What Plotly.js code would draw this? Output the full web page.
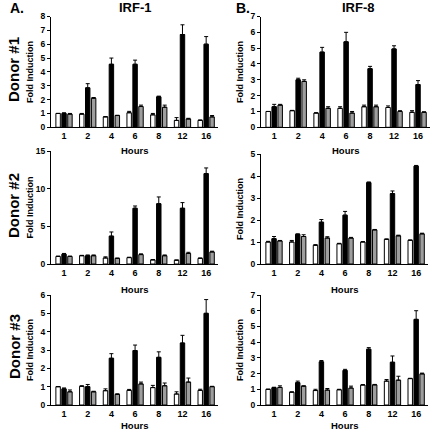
<!DOCTYPE html>
<html>
<head>
<meta charset="utf-8">
<script src="https://cdn.plot.ly/plotly-3.0.1.min.js"></script>
<style>html,body{margin:0;padding:0;background:#fff;}#chart{width:433px;height:433px;}</style>
</head>
<body>
<div id="chart"></div>
<script>
const hours = ['1','2','4','6','8','12','16'];

// IRF-1, Donor #1
const irf1_d1_white = [1.0, 0.95, 0.75, 1.05, 0.9, 0.5, 0.5];
const irf1_d1_white_err = [0, 0.05, 0.03, 0.1, 0.1, 0.2, 0.03];
const irf1_d1_black = [1.0, 2.85, 4.55, 4.55, 2.2, 6.7, 6.0];
const irf1_d1_black_err = [0.05, 0.3, 0.45, 0.3, 0.05, 0.7, 0.55];
const irf1_d1_gray = [0.95, 2.1, 0.85, 1.5, 1.45, 0.6, 0.75];
const irf1_d1_gray_err = [0.05, 0.05, 0.02, 0.1, 0.15, 0.05, 0.1];

// IRF-8, Donor #1
const irf8_d1_white = [1.0, 1.05, 0.9, 1.2, 1.3, 1.25, 0.95];
const irf8_d1_white_err = [0, 0.02, 0.02, 0.1, 0.1, 0.1, 0.1];
const irf8_d1_black = [1.3, 3.0, 4.75, 5.4, 3.7, 4.95, 2.7];
const irf8_d1_black_err = [0.15, 0.1, 0.3, 0.6, 0.15, 0.2, 0.25];
const irf8_d1_gray = [1.4, 2.9, 1.2, 0.9, 1.3, 1.0, 0.95];
const irf8_d1_gray_err = [0.05, 0.1, 0.1, 0.1, 0.1, 0.05, 0.03];

// IRF-1, Donor #2
const irf1_d2_white = [1.0, 1.1, 0.8, 0.85, 0.55, 0.5, 0.75];
const irf1_d2_white_err = [0.05, 0.05, 0.15, 0.05, 0.03, 0.03, 0.05];
const irf1_d2_black = [1.3, 1.1, 3.7, 7.4, 8.0, 7.4, 12.0];
const irf1_d2_black_err = [0.1, 0.1, 0.55, 0.3, 0.9, 0.75, 0.75];
const irf1_d2_gray = [1.0, 1.1, 0.75, 1.25, 1.1, 1.4, 1.6];
const irf1_d2_gray_err = [0.05, 0.1, 0.03, 0.1, 0.1, 0.15, 0.1];

// IRF-8, Donor #2
const irf8_d2_white = [1.0, 1.0, 0.85, 0.92, 1.0, 1.12, 1.08];
const irf8_d2_white_err = [0.03, 0.07, 0.03, 0.02, 0.02, 0.02, 0.01];
const irf8_d2_black = [1.15, 1.35, 1.9, 2.22, 3.7, 3.2, 4.45];
const irf8_d2_black_err = [0.1, 0.02, 0.12, 0.17, 0.03, 0.12, 0.03];
const irf8_d2_gray = [1.05, 1.25, 1.18, 1.18, 1.55, 1.28, 1.37];
const irf8_d2_gray_err = [0.02, 0.08, 0.06, 0.03, 0.02, 0.03, 0.03];

// IRF-1, Donor #3
const irf1_d3_white = [1.0, 1.02, 0.78, 0.8, 0.95, 0.6, 0.8];
const irf1_d3_white_err = [0, 0.03, 0.1, 0.05, 0.12, 0.12, 0.06];
const irf1_d3_black = [0.88, 1.0, 2.55, 2.97, 2.6, 3.38, 5.0];
const irf1_d3_black_err = [0.05, 0.12, 0.25, 0.3, 0.3, 0.42, 0.75];
const irf1_d3_gray = [0.72, 0.72, 0.58, 1.15, 1.05, 1.25, 1.0];
const irf1_d3_gray_err = [0.1, 0.03, 0.03, 0.1, 0.15, 0.22, 0.02];

// IRF-8, Donor #3
const irf8_d3_white = [1.0, 0.82, 0.92, 0.97, 1.27, 1.52, 1.68];
const irf8_d3_white_err = [0, 0.01, 0.08, 0.03, 0.03, 0.1, 0.02];
const irf8_d3_black = [1.1, 1.42, 2.75, 2.2, 3.55, 2.72, 5.45];
const irf8_d3_black_err = [0.03, 0.1, 0.08, 0.07, 0.1, 0.4, 0.55];
const irf8_d3_gray = [1.12, 1.2, 0.95, 1.08, 1.28, 1.58, 1.98];
const irf8_d3_gray_err = [0.1, 0.02, 0.1, 0.12, 0.03, 0.25, 0.05];

const panelTitles = ['IRF-1', 'IRF-8'];
const panelLetters = ['A.', 'B.'];
const donorLabels = ['Donor #1', 'Donor #2', 'Donor #3'];
const yLabel = 'Fold Induction';
const xLabel = 'Hours';
const yRanges = [[0, 8], [0, 7], [0, 15], [0, 5], [0, 6], [0, 7]];
const yDticks = [1, 1, 5, 1, 1, 1];

const panels = [
  [irf1_d1_white, irf1_d1_white_err, irf1_d1_black, irf1_d1_black_err, irf1_d1_gray, irf1_d1_gray_err],
  [irf8_d1_white, irf8_d1_white_err, irf8_d1_black, irf8_d1_black_err, irf8_d1_gray, irf8_d1_gray_err],
  [irf1_d2_white, irf1_d2_white_err, irf1_d2_black, irf1_d2_black_err, irf1_d2_gray, irf1_d2_gray_err],
  [irf8_d2_white, irf8_d2_white_err, irf8_d2_black, irf8_d2_black_err, irf8_d2_gray, irf8_d2_gray_err],
  [irf1_d3_white, irf1_d3_white_err, irf1_d3_black, irf1_d3_black_err, irf1_d3_gray, irf1_d3_gray_err],
  [irf8_d3_white, irf8_d3_white_err, irf8_d3_black, irf8_d3_black_err, irf8_d3_gray, irf8_d3_gray_err]
];

const W = 433, H = 433;
// pixel boxes [left, right, top, bottom]
const boxes = [
  [51, 218, 16.5, 127.3],
  [261, 430, 16.5, 127.3],
  [51, 218, 151, 264],
  [261, 428, 154, 264],
  [51, 218, 295, 405],
  [261, 428, 295, 405]
];
const fills = ['#ffffff', '#000000', '#9e9e9e'];
const FONT = 'Liberation Sans, Arial, sans-serif';

const traces = [];
const layout = {
  width: W, height: H,
  margin: {l: 0, r: 0, t: 0, b: 0},
  paper_bgcolor: '#fff', plot_bgcolor: 'rgba(0,0,0,0)',
  showlegend: false,
  barmode: 'group',
  bargap: 0.25,
  bargroupgap: 0.25,
  annotations: []
};

panels.forEach((p, i) => {
  const n = i + 1;
  const xa = n === 1 ? 'x' : 'x' + n;
  const ya = n === 1 ? 'y' : 'y' + n;
  for (let s = 0; s < 3; s++) {
    traces.push({
      type: 'bar', x: hours, y: p[2 * s], xaxis: xa, yaxis: ya,
      marker: {color: fills[s], line: {color: '#000', width: 1}},
      error_y: {type: 'data', symmetric: false, array: p[2 * s + 1],
                arrayminus: p[2 * s + 1].map(() => 0),
                color: '#000', thickness: 1, width: 2},
      hoverinfo: 'none'
    });
  }
  const b = boxes[i];
  layout['xaxis' + (n === 1 ? '' : n)] = {
    domain: [b[0] / W, b[1] / W], anchor: ya, type: 'category',
    range: [-0.55, 6.5], showline: true, linecolor: '#000', linewidth: 1,
    ticks: '', showgrid: false, zeroline: false, fixedrange: true,
    tickfont: {family: FONT, size: 9, color: '#000', weight: 'bold'}
  };
  layout['yaxis' + (n === 1 ? '' : n)] = {
    domain: [1 - b[3] / H, 1 - b[2] / H], anchor: xa,
    range: yRanges[i], dtick: yDticks[i], tick0: 0,
    showline: true, linecolor: '#000', linewidth: 1,
    ticks: 'outside', ticklen: 3, tickwidth: 1, tickcolor: '#000',
    showgrid: false, zeroline: false, fixedrange: true,
    tickfont: {family: FONT, size: 8.5, color: '#000', weight: 'bold'}
  };
  // axis titles
  layout.annotations.push({
    text: yLabel, xref: 'paper', yref: 'paper', textangle: -90,
    x: (b[0] - 21) / W, y: 1 - ((b[2] + b[3]) / 2) / H,
    xanchor: 'center', yanchor: 'middle', showarrow: false,
    font: {family: FONT, size: 9, color: '#000', weight: 'bold'}
  });
  const hoursY = [150, 289, 425][Math.floor(i / 2)];
  layout.annotations.push({
    text: xLabel, xref: 'paper', yref: 'paper',
    x: ((b[0] + b[1]) / 2) / W, y: 1 - hoursY / H,
    xanchor: 'center', yanchor: 'middle', showarrow: false,
    font: {family: FONT, size: 9.5, color: '#000', weight: 'bold'}
  });
});

// column titles and letters
[[8, 135], [234, 358]].forEach((pos, c) => {
  layout.annotations.push({
    text: panelLetters[c], xref: 'paper', yref: 'paper',
    x: pos[0] / W, y: 1 - 8 / H, xanchor: 'left', yanchor: 'middle', showarrow: false,
    font: {family: FONT, size: 14, color: '#000', weight: 'bold'}
  });
  layout.annotations.push({
    text: panelTitles[c], xref: 'paper', yref: 'paper',
    x: pos[1] / W, y: 1 - 8 / H, xanchor: 'center', yanchor: 'middle', showarrow: false,
    font: {family: FONT, size: 13, color: '#000', weight: 'bold'}
  });
});

// donor row labels
[70, 206, 347].forEach((yc, r) => {
  layout.annotations.push({
    text: donorLabels[r], xref: 'paper', yref: 'paper', textangle: -90,
    x: 14 / W, y: 1 - yc / H, xanchor: 'center', yanchor: 'middle', showarrow: false,
    font: {family: FONT, size: 15, color: '#000', weight: 'bold'}
  });
});

Plotly.newPlot('chart', traces, layout, {staticPlot: true, displayModeBar: false});
</script>
</body>
</html>
